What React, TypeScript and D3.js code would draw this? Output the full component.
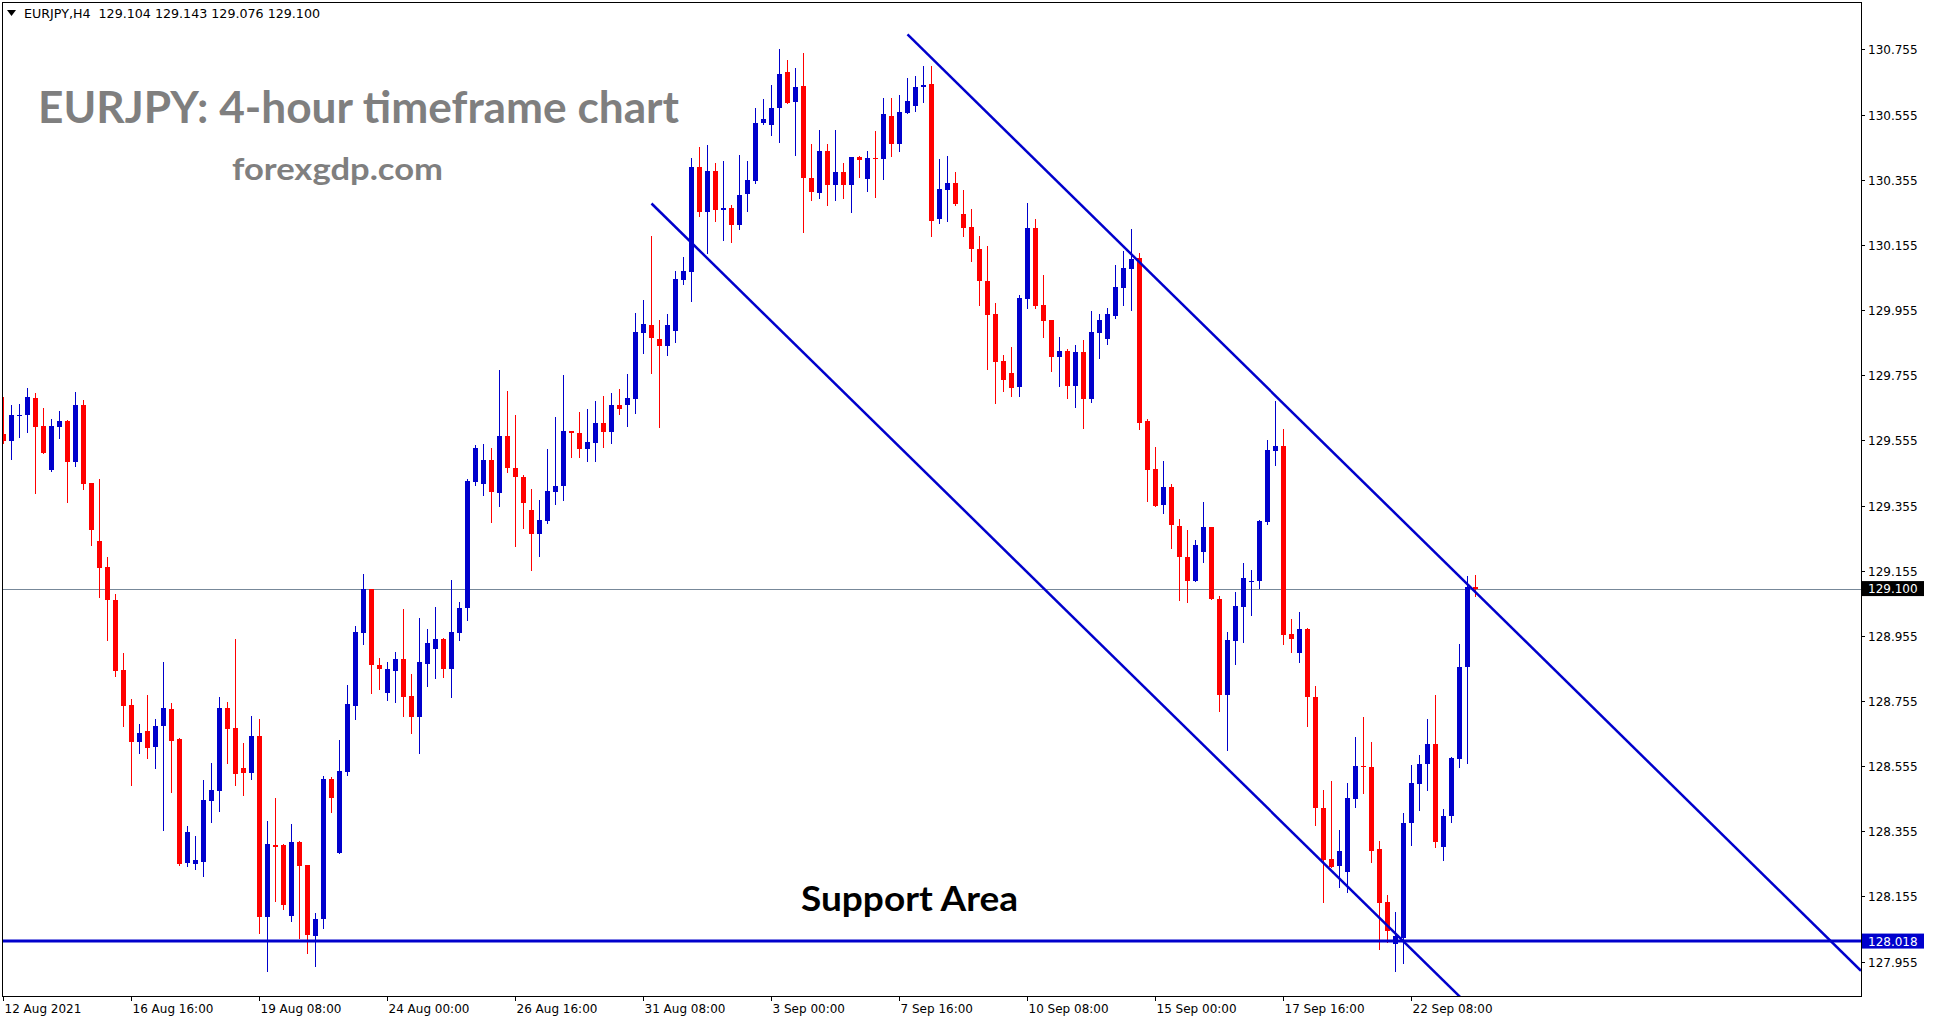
import React from "react";
import { scaleLinear } from "d3";

// EURJPY H4 candles, [open, high, low, close], bar 0 = 12 Aug 2021 00:00
const ohlc: [number, number, number, number][] = [
  [129.575, 129.688, 129.548, 129.552], [129.554, 129.662, 129.499, 129.632], [129.631, 129.667, 129.565, 129.633],
  [129.633, 129.715, 129.581, 129.687], [129.684, 129.699, 129.393, 129.597], [129.598, 129.654, 129.515, 129.516],
  [129.464, 129.620, 129.460, 129.598], [129.597, 129.644, 129.563, 129.614], [129.615, 129.616, 129.365, 129.488],
  [129.488, 129.703, 129.477, 129.662], [129.662, 129.678, 129.406, 129.420], [129.423, 129.423, 129.233, 129.279],
  [129.247, 129.435, 129.074, 129.162], [129.165, 129.198, 128.941, 129.064], [129.066, 129.084, 128.833, 128.848],
  [128.851, 128.903, 128.678, 128.741], [128.743, 128.761, 128.498, 128.629], [128.629, 128.684, 128.595, 128.656],
  [128.663, 128.773, 128.580, 128.611], [128.615, 128.700, 128.550, 128.678], [128.679, 128.875, 128.359, 128.733],
  [128.730, 128.749, 128.476, 128.633], [128.639, 128.642, 128.253, 128.256], [128.257, 128.370, 128.249, 128.354],
  [128.255, 128.342, 128.239, 128.266], [128.261, 128.511, 128.218, 128.451], [128.448, 128.565, 128.384, 128.481],
  [128.480, 128.767, 128.418, 128.733], [128.733, 128.752, 128.565, 128.670], [128.672, 128.946, 128.498, 128.532],
  [128.549, 128.626, 128.466, 128.534], [128.534, 128.708, 128.514, 128.648], [128.648, 128.700, 128.042, 128.092],
  [128.092, 128.386, 127.925, 128.316], [128.312, 128.457, 128.140, 128.308], [128.312, 128.316, 128.116, 128.128],
  [128.094, 128.376, 128.079, 128.322], [128.322, 128.325, 128.027, 128.249], [128.250, 128.250, 127.981, 128.036],
  [128.033, 128.103, 127.941, 128.087], [128.086, 128.525, 128.058, 128.514], [128.514, 128.521, 128.415, 128.458],
  [128.288, 128.635, 128.288, 128.540], [128.538, 128.805, 128.528, 128.745], [128.740, 128.985, 128.700, 128.968],
  [128.965, 129.146, 128.929, 129.100], [129.100, 129.100, 128.781, 128.864], [128.866, 128.887, 128.793, 128.852],
  [128.778, 128.875, 128.759, 128.853], [128.848, 128.906, 128.753, 128.884], [128.884, 129.036, 128.710, 128.768],
  [128.771, 128.838, 128.658, 128.707], [128.707, 129.010, 128.594, 128.875], [128.870, 128.977, 128.802, 128.934],
  [128.916, 129.044, 128.827, 128.945], [128.945, 128.949, 128.830, 128.852], [128.852, 129.127, 128.767, 128.968],
  [128.965, 129.059, 128.943, 129.041], [129.039, 129.437, 129.005, 129.429], [129.427, 129.540, 129.417, 129.533],
  [129.421, 129.545, 129.386, 129.494], [129.494, 129.530, 129.304, 129.396], [129.394, 129.770, 129.353, 129.567],
  [129.567, 129.706, 129.458, 129.470], [129.469, 129.632, 129.230, 129.443], [129.444, 129.450, 129.286, 129.362],
  [129.340, 129.405, 129.156, 129.267], [129.267, 129.373, 129.199, 129.309], [129.306, 129.528, 129.301, 129.399],
  [129.396, 129.626, 129.361, 129.416], [129.416, 129.755, 129.372, 129.583], [129.583, 129.583, 129.503, 129.578],
  [129.577, 129.641, 129.503, 129.529], [129.529, 129.651, 129.491, 129.549], [129.547, 129.675, 129.491, 129.607],
  [129.607, 129.690, 129.534, 129.581], [129.581, 129.700, 129.547, 129.662], [129.662, 129.713, 129.636, 129.652],
  [129.664, 129.758, 129.599, 129.684], [129.682, 129.946, 129.639, 129.888], [129.885, 129.986, 129.824, 129.912],
  [129.908, 130.183, 129.762, 129.868], [129.866, 129.923, 129.596, 129.846], [129.845, 129.942, 129.818, 129.908],
  [129.891, 130.075, 129.857, 130.051], [130.048, 130.118, 130.034, 130.075], [130.073, 130.423, 129.984, 130.395],
  [130.395, 130.455, 130.244, 130.255], [130.255, 130.463, 130.131, 130.383], [130.383, 130.407, 130.227, 130.261],
  [130.262, 130.413, 130.171, 130.267], [130.268, 130.276, 130.165, 130.217], [130.217, 130.431, 130.203, 130.309],
  [130.310, 130.413, 130.258, 130.355], [130.352, 130.574, 130.345, 130.530], [130.528, 130.604, 130.525, 130.542],
  [130.524, 130.647, 130.491, 130.576], [130.575, 130.755, 130.470, 130.681], [130.685, 130.721, 130.590, 130.592],
  [130.593, 130.699, 130.430, 130.641], [130.644, 130.745, 130.193, 130.360], [130.361, 130.466, 130.292, 130.317],
  [130.313, 130.509, 130.298, 130.444], [130.444, 130.466, 130.276, 130.338], [130.338, 130.509, 130.292, 130.379],
  [130.379, 130.407, 130.299, 130.338], [130.338, 130.425, 130.255, 130.425], [130.425, 130.429, 130.362, 130.416],
  [130.356, 130.444, 130.320, 130.423], [130.423, 130.503, 130.301, 130.418], [130.418, 130.607, 130.356, 130.556],
  [130.552, 130.607, 130.427, 130.464], [130.464, 130.614, 130.442, 130.564], [130.560, 130.666, 130.560, 130.598],
  [130.581, 130.672, 130.565, 130.641], [130.640, 130.705, 130.593, 130.646], [130.650, 130.705, 130.182, 130.229],
  [130.233, 130.419, 130.223, 130.327], [130.322, 130.429, 130.229, 130.346], [130.346, 130.380, 130.276, 130.279],
  [130.250, 130.324, 130.181, 130.208], [130.210, 130.266, 130.104, 130.141], [130.141, 130.183, 129.971, 130.045],
  [130.044, 130.152, 129.775, 129.941], [129.943, 129.977, 129.670, 129.796], [129.798, 129.817, 129.707, 129.741],
  [129.762, 129.841, 129.690, 129.716], [129.719, 130.001, 129.690, 129.992], [129.990, 130.284, 129.962, 130.207],
  [130.207, 130.235, 129.962, 129.967], [129.970, 130.063, 129.873, 129.922], [129.924, 129.924, 129.768, 129.811],
  [129.811, 129.873, 129.722, 129.829], [129.829, 129.835, 129.685, 129.722], [129.722, 129.847, 129.658, 129.826],
  [129.826, 129.863, 129.593, 129.682], [129.682, 129.952, 129.673, 129.887], [129.885, 129.943, 129.808, 129.924],
  [129.867, 129.961, 129.852, 129.943], [129.938, 130.093, 129.931, 130.026], [130.024, 130.137, 129.971, 130.084],
  [130.082, 130.204, 129.956, 130.112], [130.115, 130.130, 129.590, 129.608], [129.613, 129.620, 129.368, 129.464],
  [129.466, 129.536, 129.353, 129.355], [129.356, 129.493, 129.332, 129.413], [129.413, 129.422, 129.224, 129.294],
  [129.293, 129.315, 129.064, 129.197], [129.198, 129.281, 129.058, 129.122], [129.122, 129.250, 129.122, 129.235],
  [129.212, 129.365, 129.182, 129.288], [129.288, 129.288, 129.067, 129.067], [129.069, 129.076, 128.725, 128.773],
  [128.773, 128.967, 128.604, 128.943], [128.940, 129.090, 128.869, 129.047], [129.043, 129.177, 128.937, 129.131],
  [129.119, 129.158, 129.019, 129.122], [129.122, 129.310, 129.103, 129.306], [129.303, 129.555, 129.298, 129.524],
  [129.522, 129.675, 129.479, 129.539], [129.539, 129.589, 128.931, 128.959], [128.961, 129.008, 128.904, 128.945],
  [128.903, 129.028, 128.875, 128.977], [128.977, 128.980, 128.677, 128.766], [128.767, 128.802, 128.375, 128.427],
  [128.427, 128.481, 128.138, 128.267], [128.269, 128.509, 128.246, 128.246], [128.249, 128.359, 128.184, 128.294],
  [128.230, 128.503, 128.168, 128.457], [128.455, 128.644, 128.429, 128.555], [128.555, 128.706, 128.474, 128.553],
  [128.552, 128.629, 128.261, 128.296], [128.300, 128.325, 127.994, 128.134], [128.139, 128.159, 128.015, 128.049],
  [128.009, 128.106, 127.926, 128.033], [128.027, 128.410, 127.952, 128.380], [128.379, 128.559, 128.314, 128.503],
  [128.499, 128.590, 128.419, 128.563], [128.560, 128.701, 128.483, 128.622], [128.622, 128.773, 128.307, 128.323],
  [128.307, 128.423, 128.268, 128.401], [128.401, 128.583, 128.382, 128.580], [128.578, 128.930, 128.552, 128.859],
  [128.858, 129.140, 128.566, 129.104], [129.104, 129.143, 129.076, 129.100],
];

const timeLabels = [
  "12 Aug 2021", "16 Aug 16:00", "19 Aug 08:00", "24 Aug 00:00", "26 Aug 16:00", "31 Aug 08:00",
  "3 Sep 00:00", "7 Sep 16:00", "10 Sep 08:00", "15 Sep 00:00", "17 Sep 16:00", "22 Sep 08:00",
];
const barsPerLabel = 16;

const priceTicks = [
  127.955, 128.155, 128.355, 128.555, 128.755, 128.955, 129.155, 129.355,
  129.555, 129.755, 129.955, 130.155, 130.355, 130.555, 130.755,
];

const lastPrice = 129.1;
const supportLevel = 128.018;
// trend rays: [bar, price] anchors
const upperRay: [number, number][] = [[113, 130.801], [183, 129.113]];
const lowerRay: [number, number][] = [[81, 130.282], [175, 128.017]];

const W = 1933;
const H = 1023;
const left = 2;
const top = 2;
const right = 1861;
const bottom = 996;

const UP = "#0000CC";
const DOWN = "#FF0000";
const LINE = "#0000CC";
const small = "DejaVu Sans, Tahoma, sans-serif";

export default function App() {
  const x = scaleLinear().domain([0, 184]).range([3.5, 3.5 + 8 * 184]);
  const y = scaleLinear().domain([127.955, 130.755]).range([961.6, 49.4]);

  const ray = (pts: [number, number][]) => {
    const [[b0, p0], [b1, p1]] = pts;
    const bEnd = x.invert(right);
    const pEnd = p0 + ((p1 - p0) * (bEnd - b0)) / (b1 - b0);
    return { x1: x(b0), y1: y(p0), x2: x(bEnd), y2: y(pEnd) };
  };
  const up = ray(upperRay);
  const lo = ray(lowerRay);

  return (
    <svg
      width={W}
      height={H}
      style={{ position: "absolute", left: 0, top: 0, background: "#fff" }}
    >
      <defs>
        <clipPath id="plot">
          <rect x={left} y={top} width={right - left} height={bottom - top} />
        </clipPath>
      </defs>
      <rect width={W} height={H} fill="#fff" />

      <g clipPath="url(#plot)">
        <line x1={left} x2={right} y1={Math.round(y(lastPrice)) + 0.5} y2={Math.round(y(lastPrice)) + 0.5} stroke="#778899" strokeWidth={1} />

        {ohlc.map(([o, h, l, c], i) => {
          const col = c >= o ? UP : DOWN;
          const cx = x(i);
          const yt = Math.round(y(Math.max(o, c)));
          const yb = Math.round(y(Math.min(o, c)));
          return (
            <g key={i}>
              <line x1={cx} x2={cx} y1={Math.round(y(h))} y2={Math.round(y(l)) + 1} stroke={col} strokeWidth={1} />
              <rect x={cx - 2.5} y={yt} width={5} height={Math.max(1, yb - yt)} fill={col} />
            </g>
          );
        })}

        <line x1={left} x2={right} y1={y(supportLevel)} y2={y(supportLevel)} stroke={LINE} strokeWidth={3} />
        <line {...up} stroke={LINE} strokeWidth={2.5} />
        <line {...lo} stroke={LINE} strokeWidth={2.5} />
      </g>

      <rect x={left + 0.5} y={top + 0.5} width={right - left} height={bottom - top} fill="none" stroke="#000" strokeWidth={1} />

      {/* header */}
      <path d="M7,10 L16,10 L11.5,16 Z" fill="#000" />
      <text x={24} y={18} fontFamily={small} fontSize={12.5} fill="#000" style={{ whiteSpace: "pre" }} textLength={296} lengthAdjust="spacingAndGlyphs">
        {"EURJPY,H4  129.104 129.143 129.076 129.100"}
      </text>

      {/* annotations */}
      <text x={38} y={123} fontFamily="Lato, sans-serif" fontWeight={700} fontSize={43} fill="#7f7f7f" textLength={641} lengthAdjust="spacingAndGlyphs">
        EURJPY: 4-hour timeframe chart
      </text>
      <text x={232} y={180} fontFamily="Lato, sans-serif" fontWeight={700} fontSize={30} fill="#7f7f7f" textLength={211} lengthAdjust="spacingAndGlyphs">
        forexgdp.com
      </text>
      <text x={801} y={911} fontFamily="Lato, sans-serif" fontWeight={700} fontSize={34} fill="#000" textLength={217} lengthAdjust="spacingAndGlyphs">
        Support Area
      </text>

      {/* price axis */}
      {priceTicks.map((p) => {
        const ty = Math.round(y(p)) + 0.5;
        return (
          <g key={p}>
            <line x1={right} x2={right + 4} y1={ty} y2={ty} stroke="#000" />
            <text x={1868} y={ty + 4.5} fontFamily={small} fontSize={12} fill="#000">
              {p.toFixed(3)}
            </text>
          </g>
        );
      })}
      {[
        { p: lastPrice, bg: "#000" },
        { p: supportLevel, bg: "#0000CD" },
      ].map(({ p, bg }) => (
        <g key={p}>
          <rect x={1862} y={y(p) - 7.5} width={62} height={15} fill={bg} />
          <text x={1868} y={y(p) + 4.5} fontFamily={small} fontSize={12} fill="#fff">
            {p.toFixed(3)}
          </text>
        </g>
      ))}

      {/* time axis */}
      {timeLabels.map((t, i) => {
        const tx = Math.round(x(i * barsPerLabel) - 0.5) + 0.5;
        return (
          <g key={t}>
            <line x1={tx} x2={tx} y1={bottom} y2={bottom + 5} stroke="#000" />
            <text x={tx + 1} y={1013} fontFamily={small} fontSize={12} fill="#000">
              {t}
            </text>
          </g>
        );
      })}
    </svg>
  );
}
